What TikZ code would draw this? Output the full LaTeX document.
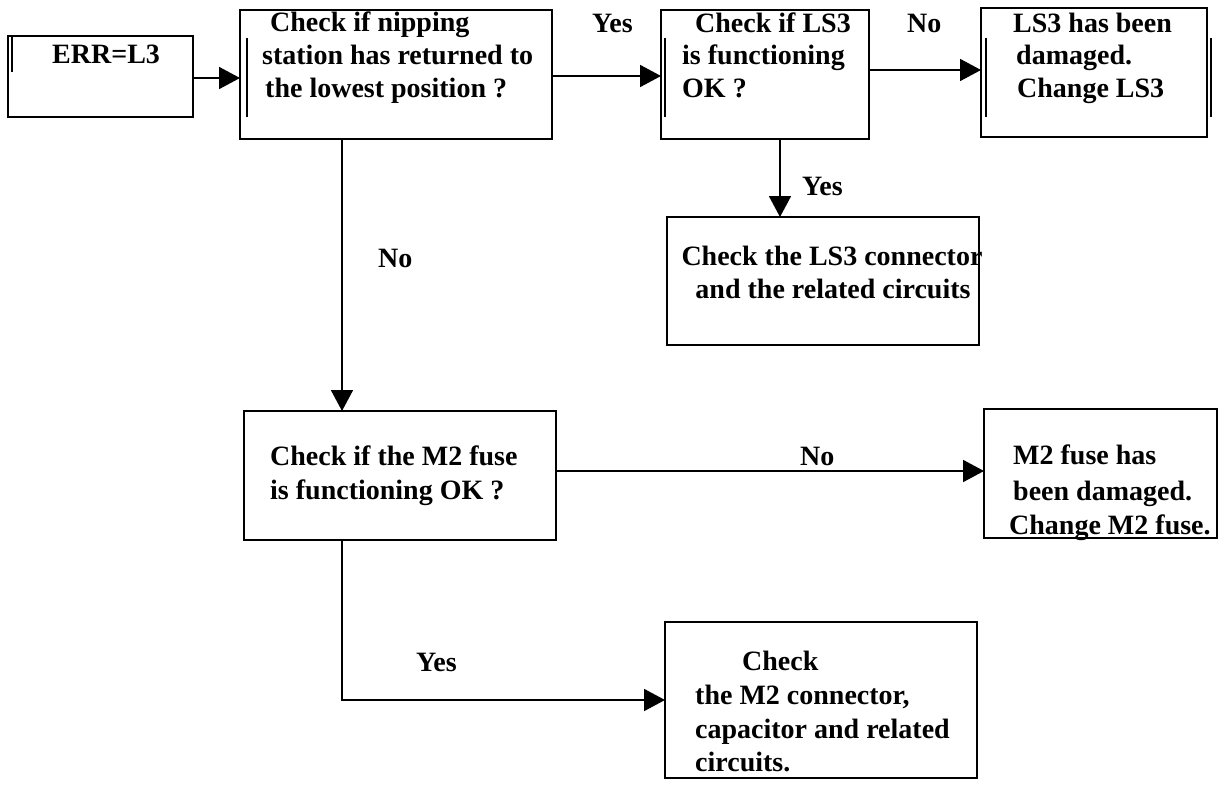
\documentclass[tikz,border=0pt]{standalone}
\usepackage{fontspec}
\setmainfont{Liberation Serif}
\usetikzlibrary{arrows.meta}
\begin{document}
\begin{tikzpicture}[x=1pt,y=-1pt,
  box/.style={draw, line width=1.8pt, inner sep=0pt, outer sep=0pt, anchor=north west},
  arr/.style={line width=1.8pt, -{Triangle[length=21pt,width=22pt]}},
  bar/.style={line width=1.4pt},
  txt/.style={font=\fontsize{28}{33}\selectfont\bfseries, inner sep=0pt, anchor=base west},
  ctxt/.style={txt, anchor=base}]
\useasboundingbox[fill=white] (0,0) rectangle (1224,787);

% boxes
\node[box, minimum width=185pt, minimum height=81pt]  (b1) at (8,36) {};
\node[box, minimum width=312pt, minimum height=129pt] (b2) at (240,10) {};
\node[box, minimum width=208pt, minimum height=129pt] (b3) at (661,10) {};
\node[box, minimum width=226pt, minimum height=129pt] (b4) at (981,8) {};
\node[box, minimum width=312pt, minimum height=128pt] (b5) at (667,217) {};
\node[box, minimum width=312pt, minimum height=129pt] (b6) at (244,411) {};
\node[box, minimum width=233pt, minimum height=129pt] (b7) at (984,409) {};
\node[box, minimum width=312pt, minimum height=156pt] (b8) at (665,622) {};

% extra vertical bars
\draw[bar] (12,37) -- (12,72);
\draw[bar] (247,38) -- (247,117);
\draw[bar] (665,38) -- (665,117);
\draw[bar] (986,38) -- (986,117);
\draw[bar] (1211,38) -- (1211,117);

% helper coordinates
\coordinate (ya) at (0,78);
\coordinate (yb) at (0,76);
\coordinate (yc) at (0,70);
\coordinate (yd) at (0,471);
\coordinate (ye) at (0,700);
\coordinate (xa) at (780,0);
\coordinate (xb) at (342,0);

% connectors
\draw[arr] (b1.east |- ya) -- (b2.west |- ya);
\draw[arr] (b2.east |- yb) -- (b3.west |- yb);
\draw[arr] (b3.east |- yc) -- (b4.west |- yc);
\draw[arr] (b3.south -| xa) -- (b5.north -| xa);
\draw[arr] (b2.south -| xb) -- (b6.north -| xb);
\draw[arr] (b6.east |- yd) -- (b7.west |- yd);
\draw[arr] (b6.south -| xb) |- (b8.west |- ye);

% texts
\node[txt] (t1) at (52,63) {ERR=L3};
\node[txt] (t2a) at (270,31) {Check if nipping};
\node[txt] (t2b) at (262,64) {station has returned to};
\node[txt] (t2c) at (265,97) {the lowest position ?};
\node[txt] (t3a) at (695,32) {Check if LS3};
\node[txt] (t3b) at (682,64) {is functioning};
\node[txt] (t3c) at (682,97) {OK ?};
\node[txt] (t4a) at (1013,32) {LS3 has been};
\node[txt] (t4b) at (1016,64) {damaged.};
\node[txt] (t4c) at (1017,97) {Change LS3};
\node[ctxt] (t5a) at (832,265) {Check the LS3 connector};
\node[ctxt] (t5b) at (833,298) {and the related circuits};
\node[txt] (t6a) at (270,465) {Check if the M2 fuse};
\node[txt] (t6b) at (270,499) {is functioning OK ?};
\node[txt] (t7a) at (1013,464) {M2 fuse has};
\node[txt] (t7b) at (1013,500) {been damaged.};
\node[txt] (t7c) at (1009,534) {Change M2 fuse.};
\node[txt] (t8a) at (742,670) {Check};
\node[txt] (t8b) at (695,704) {the M2 connector,};
\node[txt] (t8c) at (695,738) {capacitor and related};
\node[txt] (t8d) at (695,771) {circuits.};

% labels
\node[txt] (l1) at (592,32) {Yes};
\node[txt] (l2) at (907,32) {No};
\node[txt] (l3) at (802,195) {Yes};
\node[txt] (l4) at (378,267) {No};
\node[txt] (l5) at (800,465) {No};
\node[txt] (l6) at (416,671) {Yes};
\end{tikzpicture}
\end{document}
